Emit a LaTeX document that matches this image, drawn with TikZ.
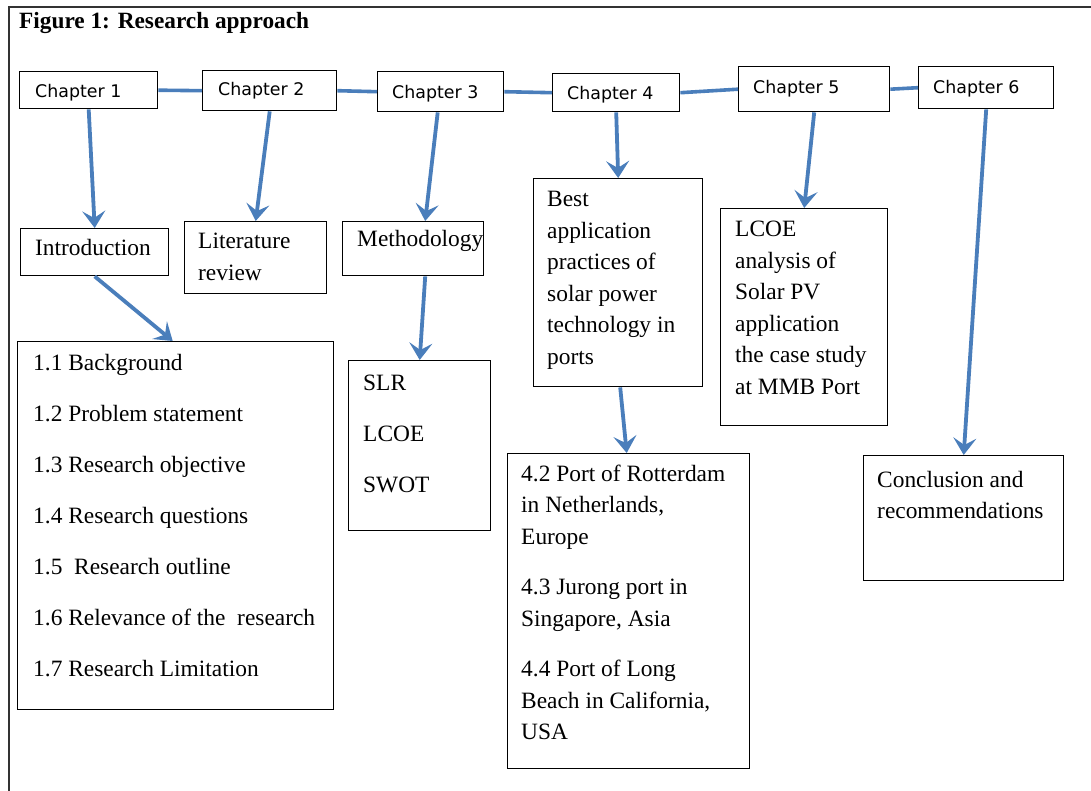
\documentclass[tikz,border=0pt]{standalone}
\usepackage{fontspec}
\setmainfont{Liberation Serif}
\newfontfamily\chapfont{DejaVu Sans}
\usetikzlibrary{arrows.meta}
\definecolor{arrblue}{HTML}{4A7EBB}
\tikzset{
  box/.style={draw=black, line width=1.4pt, inner sep=0pt, anchor=north west, fill=white},
  chaptxt/.style={anchor=base west, inner sep=0pt, font=\chapfont\fontsize{17.4}{20}\selectfont},
  bodytxt/.style={anchor=base west, inner sep=0pt},
  link/.style={draw=arrblue, line width=3.6pt},
  arr/.style={draw=arrblue, line width=3.8pt, -{Stealth[length=17pt,width=23pt,inset=7pt]}},
  frame/.style={draw=black!80, line width=2pt}
}
\newcommand{\bt}[2]{\parbox[t]{#1pt}{\raggedright\fontsize{23.4}{31.5}\selectfont #2}}
\begin{document}
\begin{tikzpicture}[x=1pt,y=-1pt]
\useasboundingbox (0,0) rectangle (1091,791);
\draw[frame] (9,791) -- (9,7) -- (1091,7);
\node[anchor=base west, inner sep=0pt, font=\bfseries\fontsize{23.3}{26}\selectfont] (title) at (19,29) {Figure 1: Research approach};

% chapter boxes
\node[box, minimum width=138pt, minimum height=37pt] (ch1) at (19,71) {};
\node[box, minimum width=134pt, minimum height=40pt] (ch2) at (202,70) {};
\node[box, minimum width=126pt, minimum height=40pt] (ch3) at (377,71) {};
\node[box, minimum width=127pt, minimum height=38pt] (ch4) at (552,73) {};
\node[box, minimum width=151pt, minimum height=45pt] (ch5) at (738,66) {};
\node[box, minimum width=135pt, minimum height=42pt] (ch6) at (918,66) {};
\node[chaptxt] (t1) at (35,98) {Chapter 1};
\node[chaptxt] (t2) at (218,96) {Chapter 2};
\node[chaptxt] (t3) at (392,99) {Chapter 3};
\node[chaptxt] (t4) at (567,100) {Chapter 4};
\node[chaptxt] (t5) at (753,94) {Chapter 5};
\node[chaptxt] (t6) at (933,94) {Chapter 6};

\draw[link] (ch1.east) -- (ch2.west);
\draw[link] (ch2.east) -- (ch3.west);
\draw[link] (ch3.east) -- (ch4.west);
\draw[link] (ch4.east) -- (ch5.west);
\draw[link] (ch5.east) -- (ch6.west);

% second row boxes
\node[box, minimum width=148pt, minimum height=47pt] (intro) at (20,228) {};
\node[box, minimum width=142pt, minimum height=72pt] (lit) at (184,221) {};
\node[box, minimum width=141pt, minimum height=54pt] (meth) at (342,221) {};
\node[box, minimum width=169pt, minimum height=208pt] (best) at (533,178) {};
\node[box, minimum width=167pt, minimum height=217pt] (lcoe) at (720,208) {};
\node[box, minimum width=200pt, minimum height=125pt] (concl) at (863,455) {};
\node[box, minimum width=316pt, minimum height=368pt] (list) at (17,341) {};
\node[box, minimum width=142pt, minimum height=170pt] (slr) at (348,360) {};
\node[box, minimum width=242pt, minimum height=315pt] (ports) at (507,453) {};

\node[bodytxt] (introT) at (35,256) {\bt{130}{Introduction}};
\node[bodytxt] (litT) at (198,249) {\bt{125}{Literature\\review}};
\node[bodytxt] (methT) at (357,247) {\bt{125}{Methodology}};
\node[bodytxt] (bestT) at (547,207) {\bt{150}{Best\\application\\practices of\\solar power\\technology in\\ports}};
\node[bodytxt] (lcoeT) at (735,237) {\bt{150}{LCOE\\analysis of\\Solar PV\\application\\the case study\\at MMB Port}};
\node[bodytxt] (conclT) at (877,487) {\bt{180}{Conclusion and\\recommendations}};
\node[bodytxt] (listT) at (33,370) {\parbox[t]{295pt}{\raggedright\fontsize{23.4}{51}\selectfont
1.1 Background\\
1.2 Problem statement\\
1.3 Research objective\\
1.4 Research questions\\
1.5~~Research outline\\
1.6 Relevance of the~~research\\
1.7 Research Limitation}};
\node[bodytxt] (slrT) at (363,390) {\parbox[t]{120pt}{\raggedright\fontsize{23.4}{51}\selectfont SLR\\LCOE\\SWOT}};
\node[bodytxt] (portsT) at (521,481) {\bt{225}{4.2 Port of Rotterdam\\in Netherlands,\\Europe\\[19pt]4.3 Jurong port in\\Singapore, Asia\\[19pt]4.4 Port of Long\\Beach in California,\\USA}};

% arrows
\draw[arr] (ch1.south) -- (intro.north);
\draw[arr] (ch2.south) -- (lit.north);
\draw[arr] ([xshift=-3pt]ch3.south) -- ([xshift=12pt]meth.north);
\draw[arr] (ch4.south) -- (best.north);
\draw[arr] (ch5.south) -- (lcoe.north);
\draw[arr] (ch6.south) -- (concl.north);
\draw[arr] (intro.south) -- ([xshift=-3pt]list.north);
\draw[arr] ([xshift=12pt]meth.south) -- (slr.north);
\draw[arr] ([xshift=2pt]best.south) -- ([xshift=-2pt]ports.north);
\end{tikzpicture}
\end{document}
